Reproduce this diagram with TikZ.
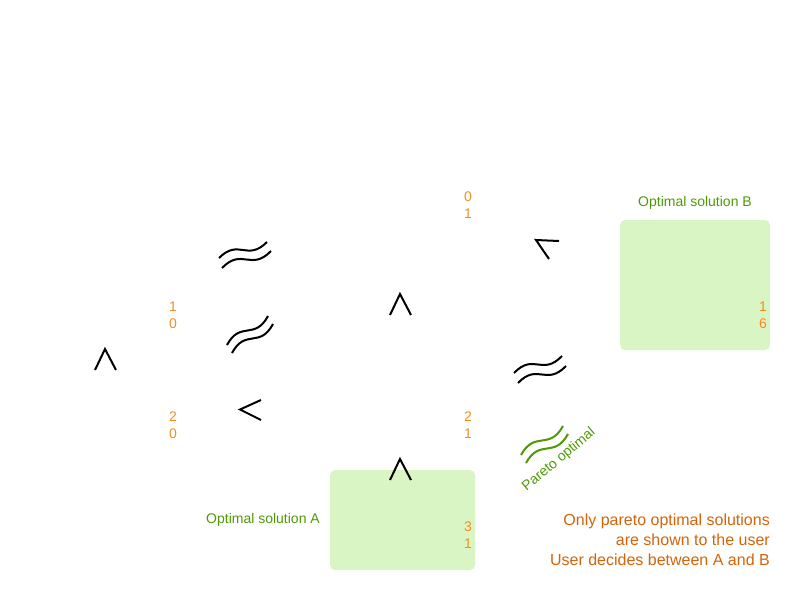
\documentclass[tikz,border=0pt]{standalone}
\usepackage{fontspec}
\setmainfont{Liberation Sans}
\usetikzlibrary{calc}
\definecolor{numorange}{RGB}{247,140,30}
\definecolor{noteorange}{RGB}{212,100,12}
\definecolor{optgreen}{RGB}{78,154,6}
\definecolor{boxgreen}{RGB}{218,245,196}
\newcommand\wavyline[3][wav]{\draw[#1] (#2) .. controls ($(#2)!0.5!(#3)!0.5!90:(#3)$) and ($(#2)!0.5!(#3)!0.5!-90:(#3)$) .. (#3);}
\begin{document}
\begin{tikzpicture}[x=1pt,y=-1pt,
  chev/.style={draw=black,line width=2pt},
  wav/.style={draw=black,line width=2pt},
  gwav/.style={draw=optgreen,line width=2pt},
  num/.style={text=numorange,font=\fontsize{14}{17.5}\selectfont,align=center,inner sep=0pt},
  soln/.style={fill=boxgreen,rounded corners=5pt,draw=none,inner sep=0pt,outer sep=0pt,anchor=north west},
  lbl/.style={text=optgreen,font=\fontsize{14}{17}\selectfont,inner sep=0pt},
  note/.style={text=noteorange,font=\fontsize{16}{20}\selectfont,align=right,inner sep=0pt},
]
\useasboundingbox (0,0) rectangle (800,600);
% solution boxes
\node[soln,minimum width=145pt,minimum height=100pt] (boxA) at (330,470) {};
\node[soln,minimum width=150pt,minimum height=130pt] (boxB) at (620,220) {};
% chevrons
\draw[chev] (95,370) -- (105,349) -- (116,370);
\draw[chev] (390,315) -- (400,294) -- (411,315);
\draw[chev] (390,480) -- (400,459) -- (411,480);
\draw[chev] (261,400) -- (240,409.5) -- (261,420);
\draw[chev] (559,241) -- (536,240) -- (549,259);
% wavy pairs
\wavyline{219,258}{267,242}
\wavyline{222,268}{271,251}
\wavyline{227,345}{268,316}
\wavyline{232,353}{273,324}
\wavyline{514,373}{562,356}
\wavyline{518,383}{566,366}
\wavyline[gwav]{521,455}{563,426}
\wavyline[gwav]{526,463}{568,434}
% numbers
\node[num] (n01) at (468,205) {0\\1};
\node[num] (n10) at (173,315) {1\\0};
\node[num] (n20) at (173,425) {2\\0};
\node[num] (n21) at (468,425) {2\\1};
\node[num] (n31) at (468,535) {3\\1};
\node[num] (n16) at (763,315) {1\\6};
% labels
\node[lbl,text depth=0pt] (labB) at (695,201) {Optimal solution B};
\node[lbl,anchor=east,text depth=0pt] (labA) at (320,518) {Optimal solution A};
\node[lbl,rotate=40,text depth=0pt] (pareto) at (558,459) {Pareto optimal};
\node[note,anchor=east] (notes) at (770,540) {Only pareto optimal solutions\\are shown to the user\\User decides between A and B};
\end{tikzpicture}
\end{document}
